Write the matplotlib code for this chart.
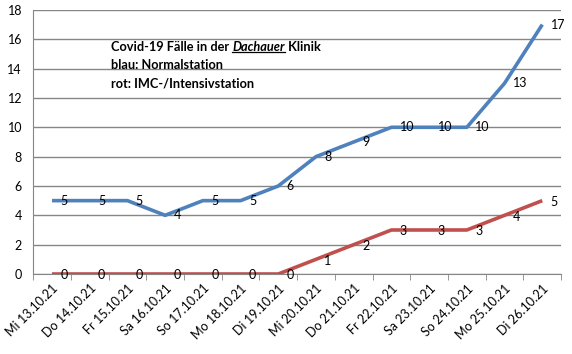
import matplotlib
matplotlib.use("Agg")
import matplotlib.pyplot as plt
from matplotlib.lines import Line2D

plt.rcParams['font.family'] = ['Lato', 'DejaVu Sans']

# ---- data ----
days = ["Mi 13.10.21", "Do 14.10.21", "Fr 15.10.21", "Sa 16.10.21", "So 17.10.21",
        "Mo 18.10.21", "Di 19.10.21", "Mi 20.10.21", "Do 21.10.21", "Fr 22.10.21",
        "Sa 23.10.21", "So 24.10.21", "Mo 25.10.21", "Di 26.10.21"]
normal = [5, 5, 5, 4, 5, 5, 6, 8, 9, 10, 10, 10, 13, 17]
intensiv = [0, 0, 0, 0, 0, 0, 0, 1, 2, 3, 3, 3, 4, 5]
yticks = list(range(0, 19, 2))

BLUE = '#4F81BD'
RED = '#C0504D'
GRID = '#868686'

fig = plt.figure(figsize=(5.72, 3.54), dpi=100)
ax = fig.add_axes([0.058, 0.226, 0.923, 0.746])

x = list(range(len(days)))
ax.plot(x, intensiv, color=RED, linewidth=2.6, solid_capstyle='butt', zorder=3)
ax.plot(x, normal, color=BLUE, linewidth=2.6, solid_capstyle='butt', zorder=3)

for xi, v in zip(x, normal):
    ax.annotate(str(v), (xi, v), xytext=(6, 0), textcoords='offset points',
                ha='left', va='center', fontsize=9, color='black')
for xi, v in zip(x, intensiv):
    ax.annotate(str(v), (xi, v), xytext=(6, -1), textcoords='offset points',
                ha='left', va='center', fontsize=9, color='black')

ax.set_xlim(-0.5, len(days) - 0.5)
ax.set_ylim(0, 18)
ax.set_yticks(yticks)
ax.set_yticklabels([str(t) for t in yticks], fontsize=9)
ax.grid(axis='y', color=GRID, linewidth=1)
ax.set_axisbelow(True)

ax.set_xticks(x)
ax.set_xticklabels(days, rotation=45, ha='right', va='top',
                   rotation_mode='anchor', fontsize=9)
ax.set_xticks([i - 0.5 for i in range(len(days) + 1)], minor=True)
ax.tick_params(axis='x', which='major', length=0, pad=6)
ax.tick_params(axis='x', which='minor', length=4, color=GRID, direction='out')
ax.tick_params(axis='y', length=0, pad=8)

for s in ['top', 'right']:
    ax.spines[s].set_visible(False)
ax.spines['left'].set_color(GRID)
ax.spines['bottom'].set_color(GRID)

# ---- text box ----
fs = 9.2
t1 = fig.text(111 / 572, 1 - 47 / 354, "Covid-19 Fälle in der ", fontsize=fs,
              fontweight='bold', va='center', ha='left')
t2 = ax.annotate("Dachauer", xy=(1, 0), xycoords=t1, va='bottom', ha='left',
                 fontsize=fs, fontweight='bold', fontstyle='italic')
t3 = ax.annotate(" Klinik", xy=(1, 0), xycoords=t2, va='bottom', ha='left',
                 fontsize=fs, fontweight='bold')
fig.text(111 / 572, 1 - 65 / 354, "blau: Normalstation", fontsize=fs,
         fontweight='bold', va='center', ha='left')
fig.text(111 / 572, 1 - 83 / 354, "rot: IMC-/Intensivstation", fontsize=fs,
         fontweight='bold', va='center', ha='left')

fig.canvas.draw()
bb = t2.get_window_extent()
y_ul = (bb.y0 + 1) / fig.bbox.height
fig.add_artist(Line2D([bb.x0 / fig.bbox.width, bb.x1 / fig.bbox.width],
                      [y_ul, y_ul], color='black', linewidth=0.9))

fig.savefig("out.png", dpi=100)
